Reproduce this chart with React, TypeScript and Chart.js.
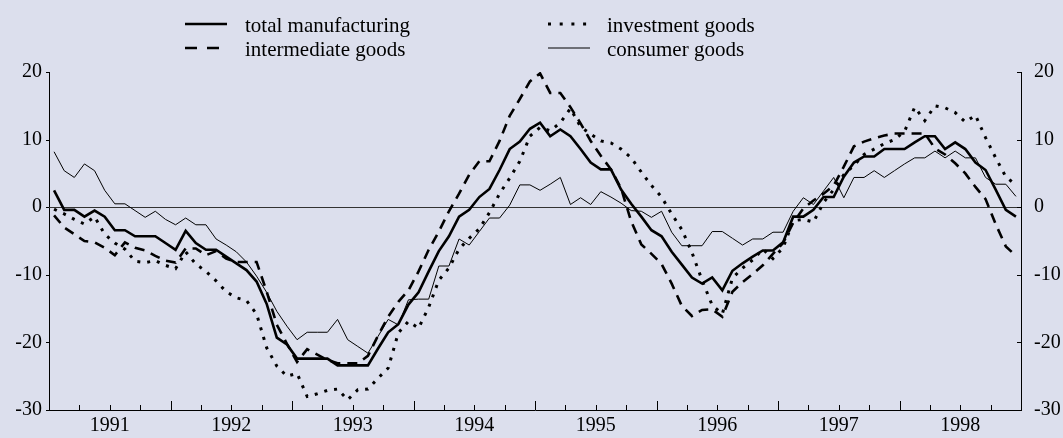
import React, { useEffect, useRef } from 'react';
import { Chart, registerables } from 'chart.js';

Chart.register(...registerables);

// Monthly values, Jan 1991 .. Dec 1998 (percentage balances)
const years = ['1991', '1992', '1993', '1994', '1995', '1996', '1997', '1998'];
const seriesNames = ['total manufacturing', 'intermediate goods', 'investment goods', 'consumer goods'];
const yTickValues = [20, 10, 0, -10, -20, -30];

const totalManufacturing = [
  2.5, -0.4, -0.4, -1.4, -0.5, -1.4, -3.4, -3.4, -4.3, -4.3, -4.3, -5.3,
  -6.3, -3.5, -5.3, -6.3, -6.3, -7.3, -8.3, -9.3, -11.0, -14.3, -19.3, -20.3,
  -22.4, -22.4, -22.4, -22.4, -23.4, -23.4, -23.4, -23.4, -20.9, -18.5, -17.3, -14.4,
  -12.6, -9.5, -6.5, -4.3, -1.4, -0.4, 1.5, 2.7, 5.5, 8.6, 9.7, 11.6,
  12.5, 10.5, 11.5, 10.5, 8.6, 6.6, 5.6, 5.6, 2.6, 0.5, -1.4, -3.4,
  -4.3, -6.6, -8.5, -10.4, -11.3, -10.4, -12.3, -9.4, -8.3, -7.3, -6.4, -6.4,
  -5.2, -1.4, -1.4, -0.4, 1.5, 1.5, 4.5, 6.6, 7.5, 7.5, 8.6, 8.6,
  8.6, 9.6, 10.5, 10.5, 8.6, 9.6, 8.6, 6.6, 5.5, 2.6, -0.4, -1.4,
];

const intermediateGoods = [
  -1.2, -3.0, -4.0, -5.0, -5.2, -6.0, -7.1, -5.2, -6.0, -6.4, -7.2, -7.9,
  -8.2, -6.1, -6.1, -7.1, -6.5, -7.6, -8.1, -8.1, -8.1, -12.5, -17.4, -20.2,
  -22.9, -21.0, -21.8, -22.6, -23.1, -23.1, -23.1, -22.0, -19.0, -16.2, -14.0, -12.3,
  -9.5, -6.3, -3.6, -0.6, 2.0, 4.8, 6.8, 6.8, 9.8, 13.5, 16.0, 18.6,
  19.8, 16.9, 16.9, 14.8, 12.4, 9.8, 7.6, 5.6, 2.8, -2.1, -5.5, -6.9,
  -8.4, -11.3, -14.6, -16.1, -15.2, -15.1, -16.2, -12.5, -11.1, -9.9, -8.6, -6.9,
  -5.3, -2.3, -0.2, 1.0, 2.0, 3.2, 6.0, 9.0, 9.7, 10.2, 10.6, 10.9,
  10.9, 10.9, 10.9, 8.7, 7.8, 6.5, 5.0, 3.0, 1.2, -2.5, -5.8, -7.2,
];

const investmentGoods = [
  -0.3, -1.0, -1.8, -2.5, -1.4, -4.0, -5.3, -6.2, -8.0, -8.2, -7.9, -8.6,
  -9.1, -6.6, -8.4, -9.5, -10.9, -12.5, -13.4, -13.8, -15.8, -20.8, -23.5, -25.0,
  -24.6, -28.0, -27.6, -27.1, -26.9, -28.5, -27.0, -26.9, -25.3, -23.8, -18.6, -16.9,
  -17.9, -14.8, -10.8, -9.0, -6.2, -4.6, -3.2, -0.8, 2.0, 4.3, 6.8, 10.5,
  11.8, 11.3, 12.5, 14.6, 11.9, 10.8, 9.8, 9.5, 8.6, 7.3, 5.2, 3.2,
  1.5, -1.0, -3.3, -6.7, -10.8, -14.5, -15.8, -10.5, -9.0, -7.8, -6.2, -7.6,
  -6.0, -2.0, -1.8, -2.2, 0.7, 2.6, 4.8, 6.2, 7.8, 8.6, 9.4, 10.0,
  11.2, 14.8, 12.8, 15.0, 14.7, 14.0, 12.6, 13.6, 10.3, 7.3, 4.5, 3.3,
];

const consumerGoods = [
  8.2, 5.4, 4.4, 6.4, 5.4, 2.5, 0.5, 0.5, -0.5, -1.5, -0.6, -1.8,
  -2.6, -1.6, -2.6, -2.6, -4.7, -5.6, -6.6, -8.1, -10.2, -12.6, -15.4, -17.6,
  -19.6, -18.5, -18.5, -18.5, -16.6, -19.6, -20.6, -21.6, -19.1, -16.6, -17.4, -13.7,
  -13.6, -13.6, -8.7, -8.7, -4.7, -5.6, -3.6, -1.6, -1.6, 0.3, 3.3, 3.3,
  2.5, 3.4, 4.4, 0.4, 1.4, 0.4, 2.3, 1.5, 0.6, -0.5, -0.6, -1.5,
  -0.6, -3.7, -5.7, -5.7, -5.7, -3.6, -3.6, -4.6, -5.6, -4.7, -4.7, -3.7,
  -3.7, -0.6, 1.4, 0.4, 2.4, 4.4, 1.4, 4.4, 4.4, 5.4, 4.4, 5.4,
  6.4, 7.3, 7.3, 8.3, 7.3, 8.3, 7.3, 7.3, 4.4, 3.4, 3.4, 1.6,
];

const BG = 'rgb(220,223,237)';
const FONT_FAMILY = '"Liberation Serif", "Times New Roman", serif';

const toPoints = (arr: number[]) => arr.map((v, i) => ({ x: i + 0.5, y: v }));

const styles = [
  { width: 2.6, dash: [] as number[] },
  { width: 2.6, dash: [10, 7] },
  { width: 3, dash: [3, 7] },
  { width: 1, dash: [] as number[] },
];

const decorPlugin = {
  id: 'decor',
  beforeDatasetsDraw(chart: any) {
    const { ctx, chartArea, scales } = chart;
    const y0 = Math.round(scales.y.getPixelForValue(0)) + 0.5;
    ctx.save();
    ctx.strokeStyle = '#333';
    ctx.lineWidth = 1;
    ctx.beginPath();
    ctx.moveTo(chartArea.left, y0);
    ctx.lineTo(chartArea.right, y0);
    ctx.stroke();
    ctx.restore();
  },
  afterDraw(chart: any) {
    const { ctx, chartArea, scales } = chart;
    ctx.save();
    ctx.strokeStyle = '#000';
    ctx.lineWidth = 1;
    // x tick marks (quarterly, longer at year boundaries), pointing up
    ctx.beginPath();
    for (let v = 3; v < 96; v += 3) {
      const px = Math.round(scales.x.getPixelForValue(v)) + 0.5;
      const len = v % 12 === 0 ? 9 : 5;
      ctx.moveTo(px, chartArea.bottom);
      ctx.lineTo(px, chartArea.bottom - len);
    }
    // y tick marks
    yTickValues.forEach((t) => {
      const py = Math.round(scales.y.getPixelForValue(t)) + 0.5;
      ctx.moveTo(chartArea.left - 3, py);
      ctx.lineTo(chartArea.left, py);
      ctx.moveTo(chartArea.right - 4, py);
      ctx.lineTo(chartArea.right, py);
    });
    ctx.stroke();

    // legend
    const rows = [24, 48];
    const cols = [
      { x0: 185, x1: 227, tx: 245 },
      { x0: 548, x1: 590, tx: 607 },
    ];
    const layout = [
      { s: 0, c: 0, r: 0 },
      { s: 1, c: 0, r: 1 },
      { s: 2, c: 1, r: 0 },
      { s: 3, c: 1, r: 1 },
    ];
    ctx.font = `21px ${FONT_FAMILY}`;
    ctx.fillStyle = '#000';
    ctx.textBaseline = 'alphabetic';
    ctx.textAlign = 'left';
    layout.forEach(({ s, c, r }) => {
      const col = cols[c];
      const y = rows[r];
      ctx.save();
      ctx.lineWidth = styles[s].width;
      const legDash = s === 1 ? [12, 10] : s === 2 ? [3, 8.7] : [];
      ctx.setLineDash(legDash);
      ctx.beginPath();
      ctx.moveTo(col.x0, y);
      ctx.lineTo(s === 1 ? 219 : col.x1, y);
      ctx.stroke();
      ctx.restore();
      ctx.fillText(seriesNames[s], col.tx, y + 7.5);
    });
    ctx.restore();
  },
};

export default function App() {
  const canvasRef = useRef<HTMLCanvasElement | null>(null);

  useEffect(() => {
    document.body.style.margin = '0';
    document.body.style.background = BG;
    const canvas = canvasRef.current;
    if (!canvas) return;
    const font = { family: FONT_FAMILY, size: 20 };
    const seriesData = [totalManufacturing, intermediateGoods, investmentGoods, consumerGoods];
    const chart = new Chart(canvas, {
      type: 'line',
      data: {
        datasets: seriesData.map((arr, i) => ({
          label: seriesNames[i],
          data: toPoints(arr),
          borderColor: '#000',
          backgroundColor: '#000',
          borderWidth: styles[i].width,
          borderDash: styles[i].dash,
          pointRadius: 0,
          tension: 0,
          fill: false,
        })),
      },
      options: {
        animation: false,
        responsive: true,
        maintainAspectRatio: false,
        layout: { padding: { top: 72, left: 0, right: 0, bottom: 0 } },
        plugins: { legend: { display: false }, tooltip: { enabled: false } },
        events: [],
        scales: {
          x: {
            type: 'linear',
            min: 0,
            max: 96,
            afterBuildTicks: (scale: any) => {
              scale.ticks = years.map((_, i) => ({ value: i * 12 + 6 }));
            },
            ticks: {
              callback: (_v: any, index: number) => years[index],
              font,
              color: '#000',
              padding: 4,
              maxRotation: 0,
              autoSkip: false,
            },
            grid: { display: false, drawTicks: false },
            border: { display: true, color: '#000', width: 1 },
            afterFit: (scale: any) => {
              scale.height = 28;
            },
          },
          y: {
            position: 'left',
            min: -30,
            max: 20,
            ticks: { stepSize: 10, font, color: '#000', padding: 7 },
            grid: { display: false, drawTicks: false },
            border: { display: true, color: '#000', width: 1 },
            afterFit: (scale: any) => {
              scale.width = 49;
            },
          },
          y2: {
            position: 'right',
            min: -30,
            max: 20,
            ticks: { stepSize: 10, font, color: '#000', padding: 13 },
            grid: { display: false, drawTicks: false },
            border: { display: true, color: '#000', width: 1 },
            afterFit: (scale: any) => {
              scale.width = 42;
            },
          },
        },
      },
      plugins: [decorPlugin],
    } as any);
    return () => chart.destroy();
  }, []);

  return (
    <div style={{ position: 'fixed', left: 0, top: 0, width: 1063, height: 438, background: BG }}>
      <canvas ref={canvasRef} />
    </div>
  );
}
